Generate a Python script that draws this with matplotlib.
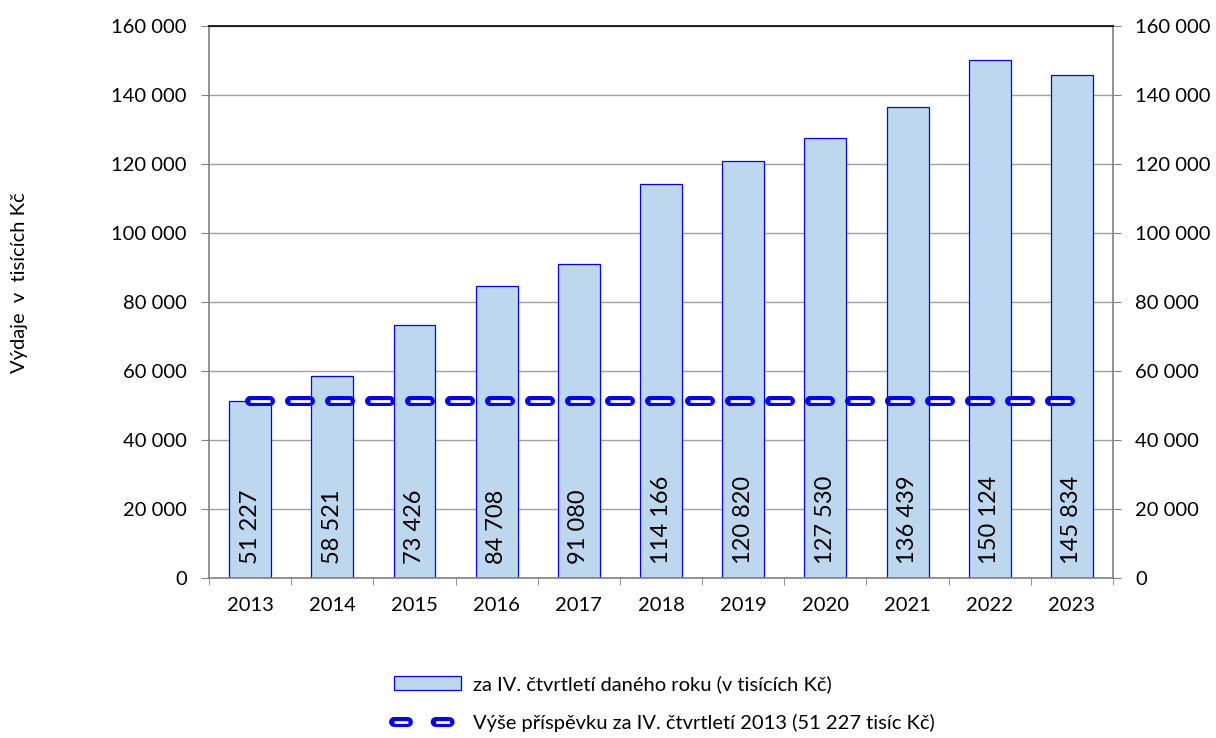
import matplotlib
matplotlib.use("Agg")
import matplotlib.pyplot as plt
from matplotlib.lines import Line2D
from matplotlib.patches import Patch
from matplotlib.legend_handler import HandlerTuple
from matplotlib.ticker import FuncFormatter

plt.rcParams['font.family'] = ['Lato', 'DejaVu Sans']
plt.rcParams['lines.scale_dashes'] = False

# data
years = ['2013', '2014', '2015', '2016', '2017', '2018', '2019', '2020', '2021', '2022', '2023']
expenses = [51227, 58521, 73426, 84708, 91080, 114166, 120820, 127530, 136439, 150124, 145834]
baseline = 51227

bar_label = 'za IV. čtvrtletí daného roku (v tisících Kč)'
line_label = 'Výše příspěvku za IV. čtvrtletí 2013 (51 227 tisíc Kč)'

def fmt(v):
    return '{:,}'.format(int(v)).replace(',', ' ')

fig = plt.figure(figsize=(12.16, 7.38), dpi=100)
ax = fig.add_axes([0.1719, 0.2168, 0.7434, 0.748])

x = list(range(len(years)))
ax.bar(x, expenses, width=0.51, color='#BDD7EE', edgecolor='#0000FF', linewidth=0.9, zorder=2)

# value labels inside bars
for xi, v in zip(x, expenses):
    ax.text(xi, 4200, fmt(v), rotation=90, ha='center', va='bottom', fontsize=17, zorder=4)

# baseline - thick blue dashed line with white core
dash = (14.4, 14.4)
ax.plot(x, [baseline] * len(x), color='#0000FF', linewidth=7.2, dashes=dash,
        dash_capstyle='round', zorder=3)
ax.plot(x, [baseline] * len(x), color='white', linewidth=2.0, dashes=dash,
        dash_capstyle='butt', zorder=3)

ax.set_xlim(-0.5, len(years) - 0.5)
ax.set_ylim(0, 160000)
ax.set_yticks(range(0, 160001, 20000))
ax.yaxis.set_major_formatter(FuncFormatter(lambda v, p: fmt(v)))
ax.set_xticks(x)
ax.set_xticklabels(years)
ax.set_xticks([i - 0.5 for i in range(len(years) + 1)], minor=True)
ax.tick_params(axis='x', which='major', length=0, labelsize=14.5, pad=14)
ax.tick_params(axis='x', which='minor', length=5, color='#808080')
ax.tick_params(axis='y', length=6, color='#808080', labelsize=14.5, pad=10,
               right=True, labelright=True)
ax.grid(axis='y', color='#A0A0A0', linewidth=1, zorder=0)
ax.set_axisbelow(True)

for side in ['left', 'right', 'bottom']:
    ax.spines[side].set_color('#808080')
    ax.spines[side].set_linewidth(1.2)
ax.spines['top'].set_color('black')
ax.spines['top'].set_linewidth(1.2)

fig.text(20 / 1216, 1 - 283 / 738, 'Výdaje  v  tisících Kč', rotation=90,
         ha='center', va='center', fontsize=14.5)

bar_handle = Patch(facecolor='#BDD7EE', edgecolor='#0000FF', linewidth=0.9)
ldash = (10.0, 20.0)
lh1 = Line2D([], [], color='#0000FF', linewidth=7.2, dashes=ldash, dash_capstyle='round')
lh2 = Line2D([], [], color='white', linewidth=2.0, dashes=ldash, dash_capstyle='butt')
fig.legend([bar_handle, (lh1, lh2)], [bar_label, line_label],
           handler_map={tuple: HandlerTuple(ndivide=1)},
           loc='upper left', bbox_to_anchor=(376 / 1216, 1 - 657 / 738),
           frameon=False, fontsize=14.5, handlelength=3.3, handleheight=0.75,
           labelspacing=1.05, handletextpad=0.6)

fig.savefig('out.png', dpi=100)
